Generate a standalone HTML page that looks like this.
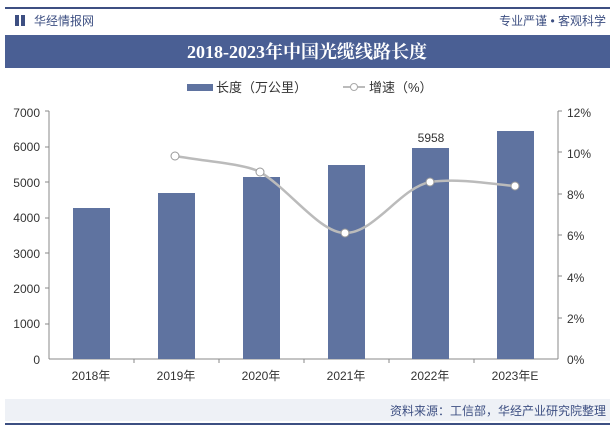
<!DOCTYPE html>
<html><head><meta charset="utf-8"><style>
body{margin:0;width:615px;height:429px;background:#fff;overflow:hidden;font-family:"Liberation Sans","Noto Sans CJK SC",sans-serif}
</style></head><body>
<svg width="615" height="429" xmlns="http://www.w3.org/2000/svg" style="font-family:'Liberation Sans','Noto Sans CJK SC',sans-serif">
<rect x="5" y="7" width="605" height="2" fill="#3d4f82"/>
<rect x="15" y="15" width="4" height="11" fill="#3d4f82"/><rect x="21" y="15" width="4" height="11" fill="#3d4f82"/>
<text x="34" y="25" font-size="12" fill="#3d4f82">华经情报网</text>
<text x="606" y="25" font-size="12" fill="#3d4f82" text-anchor="end">专业严谨 • 客观科学</text>
<rect x="5" y="35" width="605" height="33" fill="#4a5f94"/>
<text x="307" y="58" font-size="18" font-weight="bold" fill="#fff" text-anchor="middle" font-family="'Liberation Serif','Noto Serif CJK SC',serif">2018-2023年中国光缆线路长度</text>
<rect x="187" y="84" width="26" height="7" fill="#5f73a0"/>
<text x="216" y="92" font-size="13" fill="#333">长度（万公里）</text>
<line x1="343" y1="87" x2="365" y2="87" stroke="#bbb" stroke-width="2"/><circle cx="354" cy="87" r="3.5" fill="#fff" stroke="#aaa"/>
<text x="369" y="92" font-size="13" fill="#333">增速（%）</text>
<g font-size="12" fill="#333" text-anchor="end">
<text x="40" y="117">7000</text><text x="40" y="151">6000</text><text x="40" y="187">5000</text><text x="40" y="222">4000</text><text x="40" y="258">3000</text><text x="40" y="293">2000</text><text x="40" y="328">1000</text><text x="40" y="364">0</text>
</g>
<g font-size="12" fill="#333">
<text x="567" y="117">12%</text><text x="567" y="158">10%</text><text x="567" y="199">8%</text><text x="567" y="240">6%</text><text x="567" y="282">4%</text><text x="567" y="323">2%</text><text x="567" y="364">0%</text>
</g>
<line x1="49" y1="111" x2="49" y2="359" stroke="#888"/>
<line x1="558" y1="111" x2="558" y2="359" stroke="#888"/>
<line x1="49" y1="359" x2="558" y2="359" stroke="#888"/>
<g stroke="#888">
<line x1="45" y1="111" x2="49" y2="111"/><line x1="45" y1="147" x2="49" y2="147"/><line x1="45" y1="182" x2="49" y2="182"/><line x1="45" y1="218" x2="49" y2="218"/><line x1="45" y1="253" x2="49" y2="253"/><line x1="45" y1="288" x2="49" y2="288"/><line x1="45" y1="324" x2="49" y2="324"/>
<line x1="558" y1="111" x2="562" y2="111"/><line x1="558" y1="152" x2="562" y2="152"/><line x1="558" y1="194" x2="562" y2="194"/><line x1="558" y1="235" x2="562" y2="235"/><line x1="558" y1="276" x2="562" y2="276"/><line x1="558" y1="318" x2="562" y2="318"/>
<line x1="134" y1="359" x2="134" y2="363"/><line x1="219" y1="359" x2="219" y2="363"/><line x1="304" y1="359" x2="304" y2="363"/><line x1="389" y1="359" x2="389" y2="363"/><line x1="474" y1="359" x2="474" y2="363"/>
</g>
<g fill="#5f73a0">
<rect x="73" y="208" width="37" height="151"/>
<rect x="158" y="193" width="37" height="166"/>
<rect x="243" y="177" width="37" height="182"/>
<rect x="328" y="165" width="37" height="194"/>
<rect x="412" y="148" width="37" height="211"/>
<rect x="497" y="131" width="37" height="228"/>
</g>
<text x="431" y="142" font-size="12" fill="#333" text-anchor="middle">5958</text>
<path d="M175,156 C210,162 245,164 260,172 C290,190 320,233 345,233 C375,233 400,188 430,182 C460,178 490,184 515,186" fill="none" stroke="#bbb" stroke-width="2.5"/>
<g fill="#fff" stroke="#999"><circle cx="175" cy="156" r="4"/><circle cx="260" cy="172" r="4"/><circle cx="345" cy="233" r="4"/><circle cx="430" cy="182" r="4"/><circle cx="515" cy="186" r="4"/></g>
<g font-size="12" fill="#333" text-anchor="middle">
<text x="91" y="380">2018年</text><text x="176" y="380">2019年</text><text x="261" y="380">2020年</text><text x="346" y="380">2021年</text><text x="430" y="380">2022年</text><text x="515" y="380">2023年E</text>
</g>
<rect x="5" y="399" width="605" height="22" fill="#eef1f6"/>
<text x="606" y="415" font-size="12" fill="#3d4f82" text-anchor="end">资料来源：工信部，华经产业研究院整理</text>
<rect x="5" y="423" width="605" height="2" fill="#3d4f82"/>
</svg>
</body></html>
